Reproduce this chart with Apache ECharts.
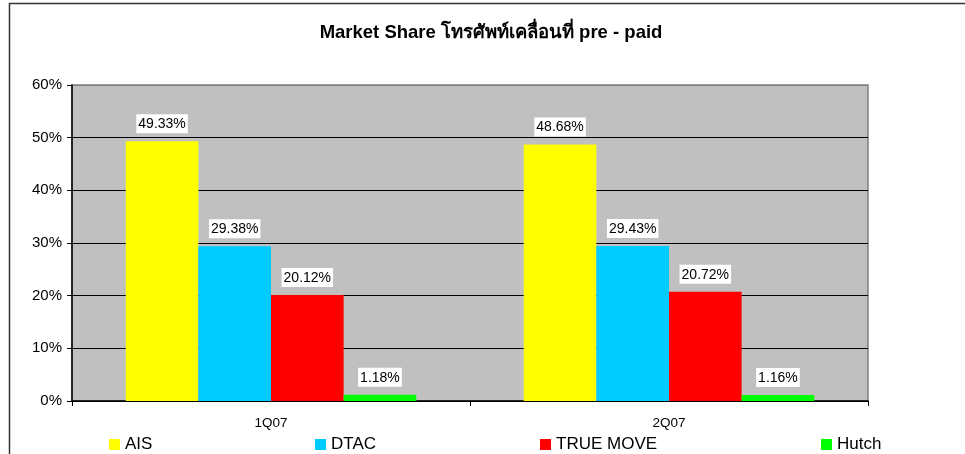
<!DOCTYPE html>
<html>
<head>
<meta charset="utf-8">
<script src="https://cdn.jsdelivr.net/npm/echarts@6/dist/echarts.min.js"></script>
<style>
  html, body { margin: 0; padding: 0; background: #fff; }
  #chart { width: 965px; height: 454px; }
</style>
</head>
<body>
<div id="chart"></div>
<script>
  // 数据
  const quarters = ['1Q07', '2Q07'];
  const seriesNames = ['AIS', 'DTAC', 'TRUE MOVE', 'Hutch'];
  const aisShare = [49.33, 48.68];
  const dtacShare = [29.38, 29.43];
  const trueShare = [20.12, 20.72];
  const hutchShare = [1.18, 1.16];
  const yTicks = [0, 10, 20, 30, 40, 50, 60];

  const colors = ['#FFFF00', '#00CCFF', '#FF0000', '#00FF00'];
  const values = [aisShare, dtacShare, trueShare, hutchShare];
  const legendLeft = [109, 315, 540, 821];
  const font = '"Liberation Sans", Arial, "Noto Sans", sans-serif';

  const chart = echarts.init(document.getElementById('chart'), null, { renderer: 'canvas' });

  const series = seriesNames.map((name, i) => ({
    name: name,
    type: 'bar',
    data: values[i],
    barGap: '0%',
    barCategoryGap: '27%',
    itemStyle: { color: colors[i] },
    label: {
      show: true,
      position: 'top',
      distance: 8,
      formatter: p => p.value.toFixed(2) + '%',
      backgroundColor: '#fff',
      padding: [3, 2, 2, 2],
      color: '#000',
      fontSize: 14,
      fontFamily: font
    }
  }));

  // 每个图例单独定位
  const legends = seriesNames.map((name, i) => ({
    data: [name],
    left: legendLeft[i],
    top: 436,
    icon: 'rect',
    itemWidth: 11,
    itemHeight: 11,
    itemGap: 0,
    padding: 0,
    textStyle: { fontSize: 17, color: '#000', fontFamily: font }
  }));

  const option = {
    animation: false,
    backgroundColor: '#fff',
    textStyle: { fontFamily: font },
    title: {
      text: 'Market Share โทรศัพท์เคลื่อนที่ pre - paid',
      left: 486,
      textAlign: 'center',
      top: 18,
      textStyle: { fontSize: 18.5, fontWeight: 'bold', color: '#000', fontFamily: font }
    },
    legend: legends,
    grid: {
      left: 72,
      right: 97,
      top: 85,
      bottom: 53,
      show: true,
      backgroundColor: '#C0C0C0',
      borderColor: '#808080',
      borderWidth: 1.5
    },
    xAxis: {
      type: 'category',
      data: quarters,
      axisLine: { lineStyle: { color: '#000', width: 1.5 } },
      axisTick: { show: true, alignWithLabel: false, length: 5, lineStyle: { color: '#000' } },
      axisLabel: { color: '#000', fontSize: 13.5, margin: 15, fontFamily: font },
      splitLine: { show: false }
    },
    yAxis: {
      type: 'value',
      min: yTicks[0],
      max: yTicks[yTicks.length - 1],
      interval: 10,
      axisLine: { show: true, lineStyle: { color: '#000', width: 1.5 } },
      axisTick: { show: true, length: 5, lineStyle: { color: '#000' } },
      axisLabel: { color: '#000', fontSize: 15, margin: 10, formatter: '{value}%', fontFamily: font },
      splitLine: {
        show: true,
        lineStyle: { color: ['#000', '#000', '#000', '#000', '#000', '#000', '#808080'], width: 1 }
      }
    },
    graphic: [{
      type: 'rect',
      shape: { x: 9.5, y: 3.5, width: 1000, height: 500 },
      style: { fill: 'none', stroke: '#333', lineWidth: 1.5 },
      silent: true,
      z: 100
    }],
    series: series
  };

  chart.setOption(option);
</script>
</body>
</html>
